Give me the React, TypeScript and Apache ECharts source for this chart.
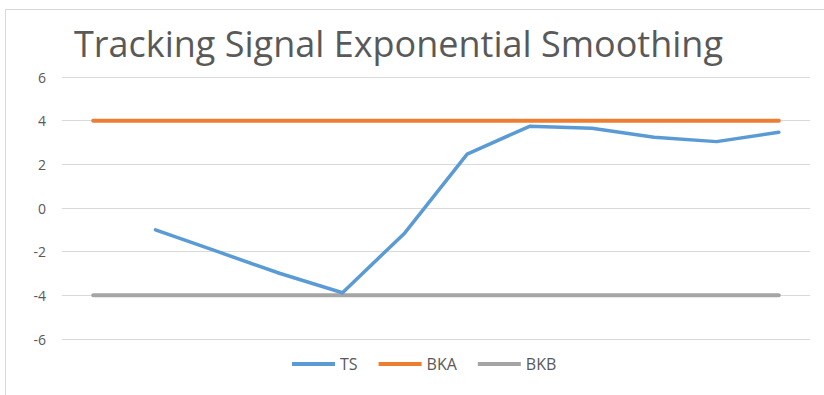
import React, { useEffect, useRef } from "react";
import * as echarts from "echarts";

const categories = ["1", "2", "3", "4", "5", "6", "7", "8", "9", "10", "11", "12"];
const tsValues: (number | null)[] = [null, -1.0, -2.0, -3.0, -3.88, -1.14, 2.47, 3.74, 3.65, 3.24, 3.04, 3.47];
const bkaValues = [4, 4, 4, 4, 4, 4, 4, 4, 4, 4, 4, 4];
const bkbValues = [-4, -4, -4, -4, -4, -4, -4, -4, -4, -4, -4, -4];
const titleText = "Tracking Signal Exponential Smoothing";

export default function App() {
  const ref = useRef<HTMLDivElement>(null);
  useEffect(() => {
    document.body.style.margin = "0";
    const chart = echarts.init(ref.current!, null, { renderer: "svg" });
    const font = "'Open Sans', 'Liberation Sans', sans-serif";
    chart.setOption({
      animation: false,
      backgroundColor: "#ffffff",
      textStyle: { fontFamily: font },
      title: {
        text: titleText,
        left: 69,
        top: 20,
        textStyle: { fontSize: 36, fontWeight: "normal", color: "#595959", fontFamily: font },
      },
      graphic: [
        {
          type: "rect",
          shape: { x: 5.5, y: 9.5, width: 840, height: 420 },
          style: { fill: "none", stroke: "#D9D9D9", lineWidth: 1 },
          silent: true,
        },
      ],
      legend: {
        bottom: 18,
        left: 287,
        icon: "rect",
        itemWidth: 43,
        itemHeight: 4,
        itemGap: 21,
        textStyle: { fontSize: 16, color: "#595959", fontFamily: font },
        data: ["TS", "BKA", "BKB"],
      },
      grid: { left: 62, right: 14, top: 77, bottom: 56, containLabel: false },
      xAxis: {
        type: "category",
        data: categories,
        boundaryGap: true,
        axisLine: { show: false },
        axisTick: { show: false },
        axisLabel: { show: false },
      },
      yAxis: {
        type: "value",
        min: -6,
        max: 6,
        interval: 2,
        axisLine: { show: false },
        axisTick: { show: false },
        axisLabel: { fontSize: 14, color: "#595959", margin: 16 },
        splitLine: { lineStyle: { color: "#D9D9D9", width: 1 } },
      },
      series: [
        {
          name: "TS",
          type: "line",
          data: tsValues,
          symbol: "none",
          lineStyle: { color: "#5B9BD5", width: 3.5, cap: "round", join: "round" },
          itemStyle: { color: "#5B9BD5" },
          z: 3,
        },
        {
          name: "BKA",
          type: "line",
          data: bkaValues,
          symbol: "none",
          lineStyle: { color: "#ED7D31", width: 4, cap: "round" },
          itemStyle: { color: "#ED7D31" },
          z: 2,
        },
        {
          name: "BKB",
          type: "line",
          data: bkbValues,
          symbol: "none",
          lineStyle: { color: "#A5A5A5", width: 4, cap: "round" },
          itemStyle: { color: "#A5A5A5" },
          z: 2,
        },
      ],
    });
    return () => chart.dispose();
  }, []);
  return <div ref={ref} style={{ width: 824, height: 395 }} />;
}
